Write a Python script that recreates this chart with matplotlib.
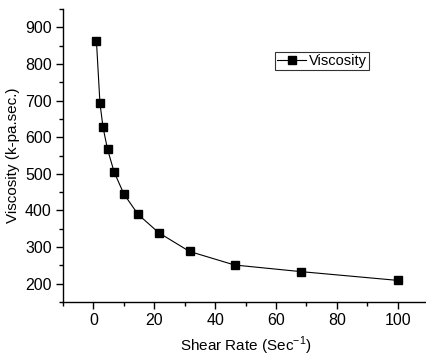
import matplotlib
matplotlib.use("Agg")
import matplotlib.pyplot as plt
from matplotlib.ticker import MultipleLocator

shear_rate = [1.0, 2.15, 3.16, 4.64, 6.81, 10.0, 14.7, 21.5, 31.6, 46.4, 68.1, 100.0]
viscosity = [862, 693, 627, 567, 505, 445, 389, 339, 288, 251, 233, 209]

plt.rcParams['font.family'] = ['Liberation Sans', 'DejaVu Sans']

fig = plt.figure(figsize=(4.27, 3.56), dpi=100)
ax = fig.add_axes([0.1475, 0.1517, 0.855, 0.823])
ax.plot(shear_rate, viscosity, color='black', lw=0.8, marker='s', ms=5.5,
        markerfacecolor='black', markeredgecolor='black', label='Viscosity')
ax.set_xlim(-10, 110)
ax.set_ylim(150, 950)
ax.xaxis.set_major_locator(MultipleLocator(20))
ax.xaxis.set_minor_locator(MultipleLocator(10))
ax.yaxis.set_major_locator(MultipleLocator(100))
ax.yaxis.set_minor_locator(MultipleLocator(50))
for s in ['top', 'right']:
    ax.spines[s].set_visible(False)
for s in ['left', 'bottom']:
    ax.spines[s].set_linewidth(1.0)
ax.tick_params(which='major', direction='out', length=5, width=1, labelsize=11.5, pad=3)
ax.tick_params(which='minor', direction='out', length=3, width=1)
ax.set_xlabel('Shear Rate (Sec$^{\\mathregular{-1}}$)', fontsize=11, labelpad=5)
ax.set_ylabel('Viscosity (k-pa.sec.)', fontsize=11, labelpad=4)
leg = ax.legend(loc='upper left', bbox_to_anchor=(0.58, 0.853), frameon=True,
                fancybox=False, edgecolor='black', fontsize=10.5, handlelength=2.0,
                handletextpad=0.2, borderpad=0.15, borderaxespad=0)
leg.get_frame().set_linewidth(0.8)
fig.savefig('out.png', dpi=100)
